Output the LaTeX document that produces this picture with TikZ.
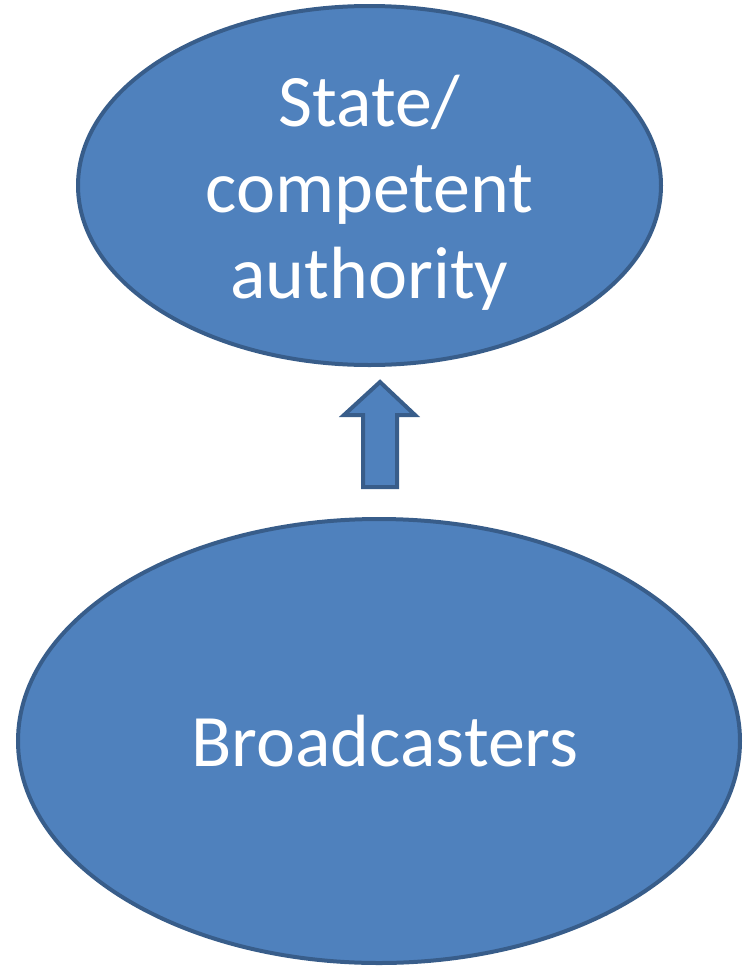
\documentclass[tikz,border=0pt]{standalone}
\usepackage{fontspec}
\setmainfont{Carlito}
\usepackage{xcolor}
\usetikzlibrary{shapes.geometric}
\definecolor{boxblue}{HTML}{4F81BD}
\definecolor{edgeblue}{HTML}{385D8A}

\begin{document}
\begin{tikzpicture}[
    x=1pt, y=-1pt,
    party/.style={ellipse, draw=edgeblue, fill=boxblue, line width=4pt, inner sep=0pt,
        text=white, align=center, font=\fontsize{74}{86}\selectfont},
    blockarrow/.style={draw=edgeblue, fill=boxblue, line width=4pt, line join=miter}
]
    % Page frame
    \clip (0, 0) rectangle (742, 967);

    % Authority
    \node[party, minimum width=583pt, minimum height=359pt] (authority) at (369.5, 185.5)
        {\rule{0pt}{66pt}State/\\competent\\authority};

    % Broadcasters
    \node[party, minimum width=722pt, minimum height=444pt] (broadcasters) at (379, 741)
        {\hspace*{12pt}Broadcasters};

    % Block arrow pointing up
    \coordinate (tip) at (380, 382);
    \draw[blockarrow] (tip) -- ++(35, 33) -- ++(-18, 0) -- ++(0, 72) -- ++(-34, 0)
        -- ++(0, -72) -- ++(-19, 0) -- cycle;
\end{tikzpicture}
\end{document}
